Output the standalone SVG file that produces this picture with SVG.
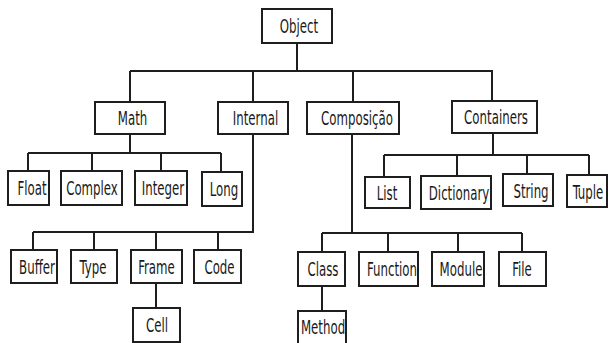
<svg xmlns="http://www.w3.org/2000/svg" width="609" height="343" viewBox="0 0 609 343">
  <style>
    .box { fill: #ffffff; stroke: #1e1e1e; stroke-width: 2; }
    .lbl { font-family: "DejaVu Sans Condensed", "DejaVu Sans", sans-serif; font-size: 19px; fill: #1a1a1a; text-anchor: middle; }
    #connectors path { fill: none; stroke: #1e1e1e; stroke-width: 2; }
  </style>
  <rect width="609" height="343" fill="#ffffff"/>

  <g id="connectors">
    <!-- root to first level -->
    <path d="M297 43 V71 M130 71 H493 M130 71 V102 M253 71 V102 M353 71 V102 M492 71 V101"/>
    <!-- Math children -->
    <path d="M130 134 V153 M28 153 H221 M28 153 V171 M92 153 V171 M161 153 V171 M221 153 V172"/>
    <!-- Internal children -->
    <path d="M253 134 V232 M33 232 H254 M33 232 V250 M94 232 V250 M156 232 V250 M218 232 V250"/>
    <path d="M156 283 V308"/>
    <!-- Composição children -->
    <path d="M352 134 V233 M322 233 H522 M322 233 V252 M388 233 V252 M458 233 V252 M522 233 V252"/>
    <path d="M322 286 V311"/>
    <!-- Containers children -->
    <path d="M493 133 V155 M384 155 H589 M384 155 V177 M457 155 V176 M527 155 V174 M589 155 V175"/>
  </g>

  <g id="object"><rect class="box" x="262" y="9" width="70" height="34"/><text class="lbl" transform="translate(299,33) scale(0.69,1)">Object</text></g>

  <g id="math"><rect class="box" x="95" y="102" width="70" height="32"/><text class="lbl" transform="translate(132.5,125) scale(0.69,1)">Math</text></g>
  <g id="internal"><rect class="box" x="218" y="102" width="70" height="32"/><text class="lbl" transform="translate(255.5,125) scale(0.69,1)">Internal</text></g>
  <g id="composicao"><rect class="box" x="307" y="102" width="92" height="32"/><text class="lbl" transform="translate(357,125) scale(0.69,1)">Composição</text></g>
  <g id="containers"><rect class="box" x="452" y="101" width="85" height="32"/><text class="lbl" transform="translate(496,124) scale(0.69,1)">Containers</text></g>

  <g id="float"><rect class="box" x="8" y="171" width="41" height="34"/><text class="lbl" transform="translate(32,195) scale(0.69,1)">Float</text></g>
  <g id="complex"><rect class="box" x="61" y="171" width="61" height="34"/><text class="lbl" transform="translate(92,195) scale(0.69,1)">Complex</text></g>
  <g id="integer"><rect class="box" x="135" y="171" width="52" height="34"/><text class="lbl" transform="translate(163,195) scale(0.69,1)">Integer</text></g>
  <g id="long"><rect class="box" x="202" y="172" width="40" height="34"/><text class="lbl" transform="translate(224,196) scale(0.69,1)">Long</text></g>

  <g id="list"><rect class="box" x="365" y="177" width="45" height="31"/><text class="lbl" transform="translate(387,199.5) scale(0.69,1)">List</text></g>
  <g id="dictionary"><rect class="box" x="421" y="176" width="70" height="33"/><text class="lbl" transform="translate(459,199.5) scale(0.69,1)">Dictionary</text></g>
  <g id="string"><rect class="box" x="503" y="174" width="50" height="32"/><text class="lbl" transform="translate(531,197.5) scale(0.69,1)">String</text></g>
  <g id="tuple"><rect class="box" x="567" y="175" width="40" height="32"/><text class="lbl" transform="translate(588,198.5) scale(0.69,1)">Tuple</text></g>

  <g id="buffer"><rect class="box" x="11" y="250" width="46" height="33"/><text class="lbl" transform="translate(37,273.5) scale(0.69,1)">Buffer</text></g>
  <g id="type"><rect class="box" x="71" y="250" width="46" height="33"/><text class="lbl" transform="translate(93,273.5) scale(0.69,1)">Type</text></g>
  <g id="frame"><rect class="box" x="131" y="250" width="51" height="33"/><text class="lbl" transform="translate(156.5,273.5) scale(0.69,1)">Frame</text></g>
  <g id="code"><rect class="box" x="194" y="250" width="47" height="33"/><text class="lbl" transform="translate(219.5,273.5) scale(0.69,1)">Code</text></g>
  <g id="cell"><rect class="box" x="133" y="308" width="47" height="34"/><text class="lbl" transform="translate(157,332) scale(0.69,1)">Cell</text></g>

  <g id="class"><rect class="box" x="298" y="252" width="47" height="34"/><text class="lbl" transform="translate(323,276) scale(0.69,1)">Class</text></g>
  <g id="function"><rect class="box" x="359" y="252" width="59" height="34"/><text class="lbl" transform="translate(392,276) scale(0.69,1)">Function</text></g>
  <g id="module"><rect class="box" x="432" y="252" width="52" height="34"/><text class="lbl" transform="translate(461,276) scale(0.69,1)">Module</text></g>
  <g id="file"><rect class="box" x="499" y="252" width="47" height="34"/><text class="lbl" transform="translate(522,276) scale(0.69,1)">File</text></g>
  <g id="method"><rect class="box" x="298" y="311" width="48" height="34"/><text class="lbl" transform="translate(323,334) scale(0.69,1)">Method</text></g>
</svg>
